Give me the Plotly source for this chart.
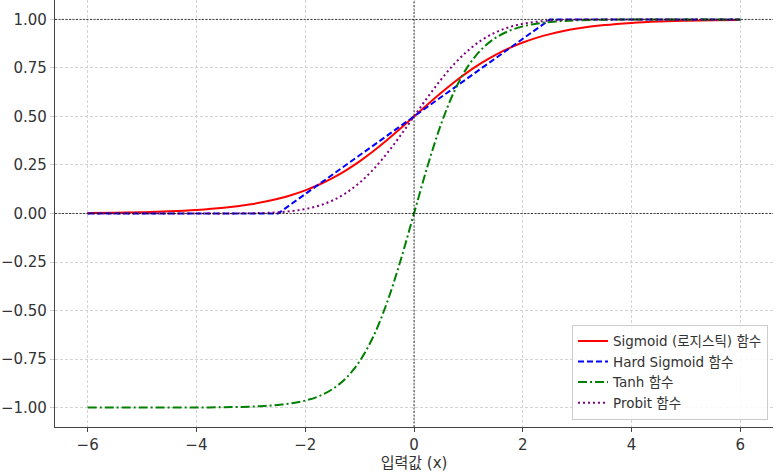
import plotly.graph_objects as go

x_vals = [-6, -5.5, -5, -4.5, -4, -3.5, -3, -2.75, -2.5, -2.25, -2, -1.75, -1.5, -1.25, -1,
          -0.75, -0.5, -0.25, 0, 0.25, 0.5, 0.75, 1, 1.25, 1.5, 1.75, 2, 2.25, 2.5, 2.75,
          3, 3.5, 4, 4.5, 5, 5.5, 6]

sigmoid_vals = [0.0025, 0.0041, 0.0067, 0.0110, 0.0180, 0.0293, 0.0474, 0.0601, 0.0759, 0.0953,
                0.1192, 0.1480, 0.1824, 0.2227, 0.2689, 0.3208, 0.3775, 0.4378, 0.5, 0.5622,
                0.6225, 0.6792, 0.7311, 0.7773, 0.8176, 0.8520, 0.8808, 0.9047, 0.9241, 0.9399,
                0.9526, 0.9707, 0.9820, 0.9890, 0.9933, 0.9959, 0.9975]

hard_sigmoid_vals = [0, 0, 0, 0, 0, 0, 0, 0, 0, 0.05, 0.1, 0.15, 0.2, 0.25, 0.3, 0.35, 0.4, 0.45,
                     0.5, 0.55, 0.6, 0.65, 0.7, 0.75, 0.8, 0.85, 0.9, 0.95, 1, 1, 1, 1, 1, 1, 1, 1, 1]

tanh_vals = [-1.0, -1.0, -0.9999, -0.9998, -0.9993, -0.9982, -0.9951, -0.9918, -0.9866, -0.9780,
             -0.9640, -0.9414, -0.9051, -0.8483, -0.7616, -0.6351, -0.4621, -0.2449, 0.0, 0.2449,
             0.4621, 0.6351, 0.7616, 0.8483, 0.9051, 0.9414, 0.9640, 0.9780, 0.9866, 0.9918,
             0.9951, 0.9982, 0.9993, 0.9998, 0.9999, 1.0, 1.0]

probit_vals = [0.0, 0.0, 0.0, 0.0, 0.00003, 0.0002, 0.0013, 0.0030, 0.0062, 0.0122, 0.0228, 0.0401,
               0.0668, 0.1056, 0.1587, 0.2266, 0.3085, 0.4013, 0.5, 0.5987, 0.6915, 0.7734, 0.8413,
               0.8944, 0.9332, 0.9599, 0.9772, 0.9878, 0.9938, 0.9970, 0.9987, 0.9998, 1.0, 1.0,
               1.0, 1.0, 1.0]

x_ticks = [-6, -4, -2, 0, 2, 4, 6]
y_ticks = [-1.0, -0.75, -0.5, -0.25, 0.0, 0.25, 0.5, 0.75, 1.0]
y_tick_text = ["−1.00", "−0.75", "−0.50", "−0.25", "0.00", "0.25", "0.50", "0.75", "1.00"]
x_tick_text = ["−6", "−4", "−2", "0", "2", "4", "6"]

FONT = "DejaVu Sans, Noto Sans CJK KR, sans-serif"

fig = go.Figure()
fig.add_trace(go.Scatter(x=x_vals, y=sigmoid_vals, mode="lines", name="Sigmoid (로지스틱) 함수",
                         line=dict(color="red", width=2, shape="spline")))
fig.add_trace(go.Scatter(x=x_vals, y=hard_sigmoid_vals, mode="lines", name="Hard Sigmoid 함수",
                         line=dict(color="blue", width=2, dash="6px,3px")))
fig.add_trace(go.Scatter(x=x_vals, y=tanh_vals, mode="lines", name="Tanh 함수",
                         line=dict(color="green", width=2, dash="9px,3px,2px,3px", shape="spline")))
fig.add_trace(go.Scatter(x=x_vals, y=probit_vals, mode="lines", name="Probit 함수",
                         line=dict(color="purple", width=2, dash="2px,3px", shape="spline")))

# reference lines
for yv in [0, 1]:
    fig.add_shape(type="line", xref="paper", x0=0, x1=1, yref="y", y0=yv, y1=yv,
                  line=dict(color="rgba(0,0,0,0.75)", width=1, dash="2px,1.5px"), layer="above")
fig.add_shape(type="line", xref="x", x0=0, x1=0, yref="paper", y0=0, y1=1,
              line=dict(color="rgba(0,0,0,0.75)", width=1, dash="2px,1.5px"), layer="above")

fig.update_layout(
    width=783, height=473,
    margin=dict(l=55, r=10, t=0, b=46, autoexpand=False),
    plot_bgcolor="white", paper_bgcolor="white",
    font=dict(family=FONT, size=15, color="#333333"),
    showlegend=True,
    legend=dict(x=0.993, y=0.017, xanchor="right", yanchor="bottom",
                bgcolor="rgba(255,255,255,0.85)", bordercolor="#cccccc", borderwidth=1,
                font=dict(size=13.5, color="#333333"), tracegroupgap=0, itemwidth=30),
    xaxis=dict(range=[-6.6, 6.6], tickvals=x_ticks, ticktext=x_tick_text,
               showgrid=True, gridcolor="#d3d3d3", griddash="3px,2px", gridwidth=1,
               zeroline=False, showline=True, linecolor="#444444", linewidth=1.3,
               ticks="outside", ticklen=4, tickcolor="#444444", automargin=False,
               title=dict(text="입력값 (x)", font=dict(size=15), standoff=4)),
    yaxis=dict(range=[-1.1, 1.1], tickvals=y_ticks, ticktext=y_tick_text,
               showgrid=True, gridcolor="#d3d3d3", griddash="3px,2px", gridwidth=1,
               zeroline=False, showline=True, linecolor="#444444", linewidth=1.3,
               ticks="outside", ticklen=4, tickcolor="#cccccc", automargin=False),
)

fig.write_html("out.html", config={"displayModeBar": False},
               post_script="document.body.style.margin='0';document.body.style.overflow='hidden';")
